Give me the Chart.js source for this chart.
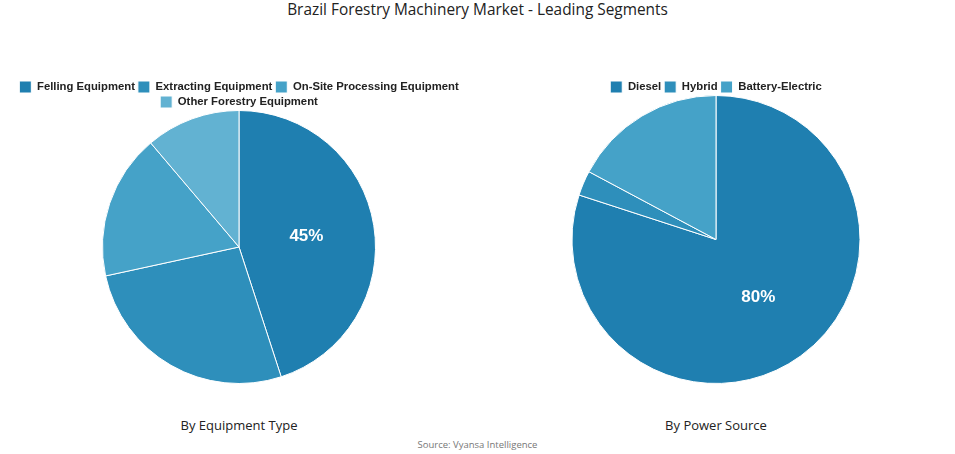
<!DOCTYPE html>
<html>
<head>
<meta charset="utf-8">
<script src="https://cdn.jsdelivr.net/npm/chart.js@4"></script>
<style>
  body { margin: 0; background: #fff; font-family: 'Open Sans', sans-serif; }
  #wrap { position: relative; width: 955px; height: 454px; }
  .title { position: absolute; top: 0; left: 0; width: 955px; text-align: center; font-size: 15.4px; color: #222; line-height: 20px; }
  .box { position: absolute; top: 78px; width: 478px; height: 306px; }
  .sub { position: absolute; top: 416px; width: 478px; text-align: center; font-size: 13px; color: #222; }
  .src { position: absolute; top: 438px; left: 0; width: 955px; text-align: center; font-size: 9.5px; color: #777; }
</style>
</head>
<body>
<div id="wrap">
  <div class="title">Brazil Forestry Machinery Market - Leading Segments</div>
  <div class="box" style="left:0"><canvas id="type-chart"></canvas></div>
  <div class="box" style="left:477px"><canvas id="power-chart"></canvas></div>
  <div class="sub" style="left:0">By Equipment Type</div>
  <div class="sub" style="left:477px">By Power Source</div>
  <div class="src">Source: Vyansa Intelligence</div>
</div>
<script>
  var typeLabels = ['Felling Equipment', 'Extracting Equipment', 'On-Site Processing Equipment', 'Other Forestry Equipment'];
  var typeValues = [45, 26.6, 17.2, 11.2];
  var powerLabels = ['Diesel', 'Hybrid', 'Battery-Electric'];
  var powerValues = [80, 2.8, 17.2];
  var palette = ['#1f7fb0', '#2e8fbb', '#45a2c8', '#62b2d2'];

  // pull the pie a bit closer to the legend than chart.js does by default
  var tightLegend = {
    id: 'tightLegend',
    beforeLayout: function (chart) {
      var lg = chart.legend;
      if (!lg || lg._tight) return;
      var fit = lg.fit;
      lg.fit = function () {
        fit.call(this);
        this.height -= 8;
      };
      lg._tight = true;
    }
  };

  var sliceLabels = {
    id: 'sliceLabels',
    afterDatasetsDraw: function (chart) {
      var ctx = chart.ctx;
      var ds = chart.data.datasets[0];
      chart.getDatasetMeta(0).data.forEach(function (arc, i) {
        var v = ds.data[i];
        if (v < 30) return;
        var p = arc.tooltipPosition();
        ctx.save();
        ctx.fillStyle = '#fff';
        ctx.font = 'bold 17px "Liberation Sans", Arial, sans-serif';
        ctx.textAlign = 'center';
        ctx.textBaseline = 'middle';
        ctx.fillText(Math.round(v) + '%', p.x, p.y);
        ctx.restore();
      });
    }
  };

  function makePie(id, labels, values) {
    new Chart(document.getElementById(id).getContext('2d'), {
      type: 'pie',
      data: {
        labels: labels,
        datasets: [{
          data: values,
          backgroundColor: palette.slice(0, values.length),
          borderColor: '#fff',
          borderWidth: 1
        }]
      },
      options: {
        responsive: true,
        maintainAspectRatio: false,
        animation: false,
        plugins: {
          legend: {
            position: 'top',
            labels: {
              color: '#222',
              boxWidth: 12,
              boxHeight: 12,
              padding: 3,
              font: { family: "'Liberation Sans', Arial, sans-serif", size: 11.3, weight: 'bold' }
            }
          },
          tooltip: { enabled: false }
        }
      },
      plugins: [tightLegend, sliceLabels]
    });
  }

  makePie('type-chart', typeLabels, typeValues);
  makePie('power-chart', powerLabels, powerValues);
</script>
</body>
</html>
